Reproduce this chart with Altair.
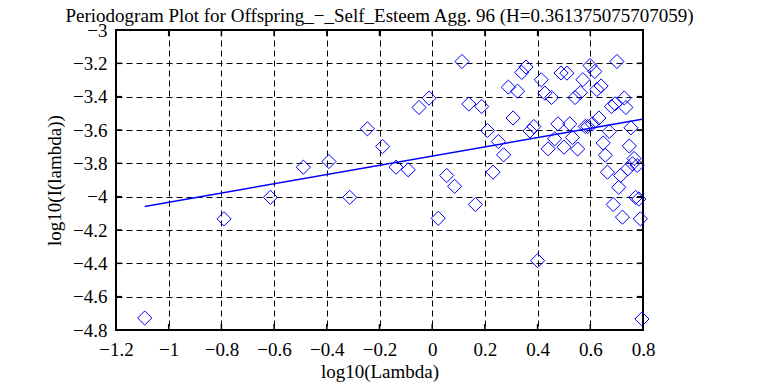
import altair as alt
import pandas as pd

# log10(Lambda) values
x_vals = [-1.091, -0.790, -0.614, -0.489, -0.392, -0.313, -0.246, -0.188, -0.137, -0.091,
          -0.050, -0.012, 0.023, 0.055, 0.085, 0.113, 0.139, 0.164, 0.188, 0.210,
          0.231, 0.251, 0.271, 0.289, 0.307, 0.324, 0.340, 0.356, 0.371, 0.386,
          0.400, 0.414, 0.428, 0.440, 0.453, 0.465, 0.477, 0.489, 0.500, 0.511,
          0.522, 0.532, 0.542, 0.552, 0.562, 0.572, 0.581, 0.590, 0.599, 0.608,
          0.617, 0.625, 0.633, 0.641, 0.649, 0.657, 0.665, 0.672, 0.680, 0.687,
          0.694, 0.701, 0.708, 0.715, 0.722, 0.729, 0.735, 0.742, 0.748, 0.754,
          0.760, 0.766, 0.772, 0.778, 0.784, 0.790, 0.796]
# log10(I(lambda)) values
y_vals = [-4.728, -4.133, -4.004, -3.823, -3.789, -4.004, -3.593, -3.699, -3.823, -3.839,
          -3.465, -3.409, -4.130, -3.873, -3.938, -3.189, -3.444, -4.047, -3.459, -3.603,
          -3.853, -3.669, -3.749, -3.343, -3.528, -3.367, -3.255, -3.222, -3.606, -3.579,
          -4.384, -3.299, -3.379, -3.713, -3.405, -3.653, -3.563, -3.258, -3.703, -3.259,
          -3.563, -3.645, -3.405, -3.714, -3.376, -3.298, -3.579, -3.579, -3.213, -3.563,
          -3.249, -3.357, -3.528, -3.336, -3.678, -3.751, -3.853, -3.609, -3.459, -4.047,
          -3.443, -3.189, -3.944, -3.873, -4.123, -3.408, -3.465, -3.833, -3.696, -3.587,
          -3.803, -3.771, -4.004, -3.813, -4.014, -4.133, -4.734]
# fitted line end points
line_x = [-1.091, 0.796]
line_y = [-4.059, -3.536]

x_ticks = [-1.2, -1.0, -0.8, -0.6, -0.4, -0.2, 0.0, 0.2, 0.4, 0.6, 0.8]
y_ticks = [-4.8, -4.6, -4.4, -4.2, -4.0, -3.8, -3.6, -3.4, -3.2, -3.0]

TITLE = "Periodogram Plot for Offspring_\u2212_Self_Esteem Agg. 96 (H=0.361375075707059)"
FONT = "Liberation Serif"
W, H = 527, 300
TK = 6
BLUE = "#0000ff"

pts = pd.DataFrame({"x": x_vals, "y": y_vals})
ln = pd.DataFrame({"x": line_x, "y": line_y})
xt = pd.DataFrame({"x": x_ticks})
yt = pd.DataFrame({"y": y_ticks})

xs = alt.Scale(domain=[-1.2, 0.8], nice=False, zero=False)
ys = alt.Scale(domain=[-4.8, -3.0], nice=False, zero=False)

common = dict(grid=True, gridDash=[6, 4], gridColor="black", gridOpacity=1, gridWidth=1,
              tickSize=0, domain=False, labelFont=FONT, labelFontSize=19, labelColor="black",
              labelFlush=False, labelOverlap=False, titleFont=FONT, titleFontSize=19,
              titleFontWeight="normal", titleColor="black", format=".1~f")

xaxis = alt.Axis(title="log10(Lambda)", values=x_ticks, labelPadding=10, titlePadding=3, **common)
yaxis = alt.Axis(title="log10(I(lambda))", values=y_ticks, labelPadding=9, titlePadding=8, **common)


def X(field):
    return alt.X(field + ":Q", scale=xs, axis=xaxis)


def Y(field):
    return alt.Y(field + ":Q", scale=ys, axis=yaxis)


points = alt.Chart(pts).mark_point(shape="diamond", size=200, filled=False, color=BLUE,
                                   strokeWidth=1, opacity=1).encode(x=X("x"), y=Y("y"))

line = alt.Chart(ln).mark_line(color=BLUE, strokeWidth=1.5).encode(x=X("x"), y=Y("y"))

top_ticks = alt.Chart(xt).mark_rule(color="black", strokeWidth=1.5).encode(
    x=X("x"), y=alt.value(0), y2=alt.value(TK))
bot_ticks = alt.Chart(xt).mark_rule(color="black", strokeWidth=1.5).encode(
    x=X("x"), y=alt.value(H), y2=alt.value(H - TK))
left_ticks = alt.Chart(yt).mark_rule(color="black", strokeWidth=1.5).encode(
    y=Y("y"), x=alt.value(0), x2=alt.value(TK))
right_ticks = alt.Chart(yt).mark_rule(color="black", strokeWidth=1.5).encode(
    y=Y("y"), x=alt.value(W), x2=alt.value(W - TK))

chart = alt.layer(points, line, top_ticks, bot_ticks, left_ticks, right_ticks).properties(
    width=W, height=H,
    title=alt.TitleParams(TITLE, font=FONT, fontSize=19, fontWeight="normal", color="black",
                          anchor="middle", offset=-5),
    padding={"left": 108, "top": 22, "right": 100, "bottom": 55},
    autosize=alt.AutoSizeParams(type="none"),
    background="white",
).configure_view(stroke="black", strokeWidth=2)

chart.save("out.html", embed_options={"renderer": "svg", "actions": False})
